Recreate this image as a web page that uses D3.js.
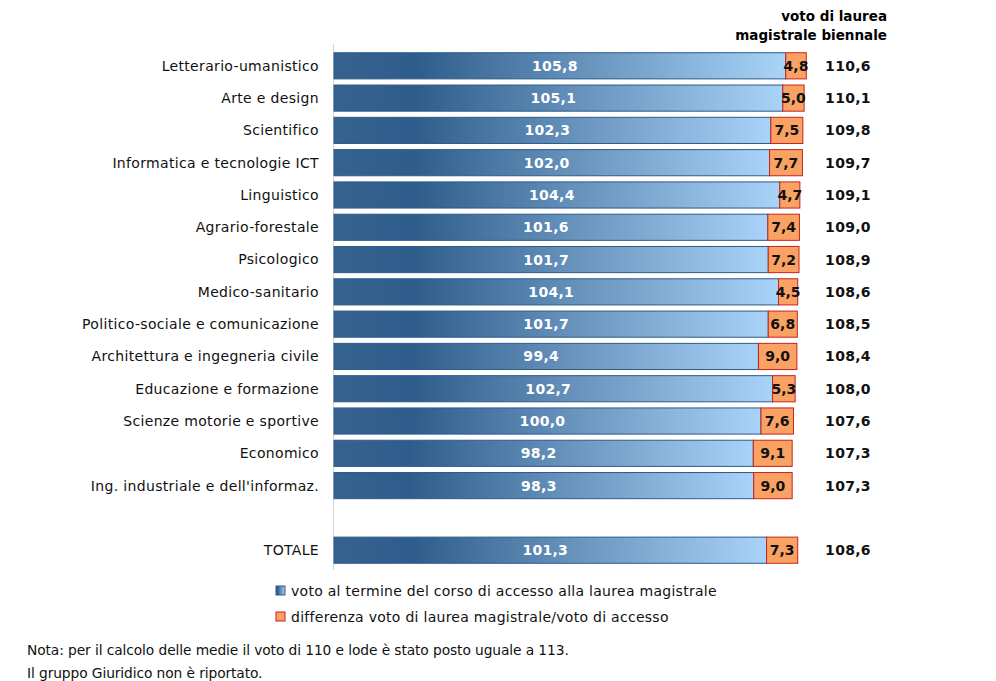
<!DOCTYPE html>
<html><head><meta charset="utf-8">
<script src="https://cdn.jsdelivr.net/npm/d3@7"></script>
<style>body{margin:0;background:#fff}svg{font-family:"DejaVu Sans",Verdana,sans-serif}</style>
</head><body>
<svg id="c" width="996" height="681"></svg>
<script>
const categories = ["Letterario-umanistico","Arte e design","Scientifico","Informatica e tecnologie ICT","Linguistico","Agrario-forestale","Psicologico","Medico-sanitario","Politico-sociale e comunicazione","Architettura e ingegneria civile","Educazione e formazione","Scienze motorie e sportive","Economico","Ing. industriale e dell'informaz.","","TOTALE"];
const accessVote = [105.8,105.1,102.3,102.0,104.4,101.6,101.7,104.1,101.7,99.4,102.7,100.0,98.2,98.3,null,101.3];
const difference = [4.8,5.0,7.5,7.7,4.7,7.4,7.2,4.5,6.8,9.0,5.3,7.6,9.1,9.0,null,7.3];
const finalVote = [110.6,110.1,109.8,109.7,109.1,109.0,108.9,108.6,108.5,108.4,108.0,107.6,107.3,107.3,null,108.6];
const legendLabels = ["voto al termine del corso di accesso alla laurea magistrale","differenza voto di laurea magistrale/voto di accesso"];
const notes = ["Nota: per il calcolo delle medie il voto di 110 e lode è stato posto uguale a 113.","Il gruppo Giuridico non è riportato."];

const svg = d3.select("#c");
const fmt = v => d3.format(".1f")(v).replace(".", ",");
const x = d3.scaleLinear().domain([0, 120]).range([334, 334 + 4.27*120]);
const y = d3.scaleBand().domain(d3.range(categories.length)).range([49.5, 566.5]).paddingInner(0.19).paddingOuter(0.1);

const defs = svg.append("defs");
const g1 = defs.append("linearGradient").attr("id","gb").attr("x1","0").attr("x2","1").attr("y1","0").attr("y2","0");
g1.append("stop").attr("offset","0%").attr("stop-color","#36628f");
g1.append("stop").attr("offset","18%").attr("stop-color","#2f5d8b");
g1.append("stop").attr("offset","100%").attr("stop-color","#a9d3f8");

svg.append("line").attr("x1",333.5).attr("x2",333.5).attr("y1",44).attr("y2",570).attr("stroke","#d4d4d4");

const rows = d3.range(categories.length).filter(i => accessVote[i] != null);

svg.selectAll("text.cat").data(d3.range(categories.length)).join("text")
  .attr("x", 319).attr("y", i => y(i) + y.bandwidth()/2).attr("dy","0.35em")
  .attr("text-anchor","end").attr("font-size",14).attr("letter-spacing","0.33px").attr("fill","#111")
  .text(i => categories[i]);

svg.selectAll("rect.b").data(rows).join("rect")
  .attr("x", x(0)).attr("y", i => y(i)).attr("width", i => x(accessVote[i]) - x(0)).attr("height", y.bandwidth())
  .attr("fill","url(#gb)").attr("stroke","#2d5b8a").attr("stroke-width",1);
svg.selectAll("rect.o").data(rows).join("rect")
  .attr("x", i => x(accessVote[i])).attr("y", i => y(i)).attr("width", i => x(accessVote[i]+difference[i]) - x(accessVote[i])).attr("height", y.bandwidth())
  .attr("fill","#f9a263").attr("stroke","#c8231e").attr("stroke-width",1);

svg.selectAll("text.v").data(rows).join("text")
  .attr("x", i => (x(0)+x(accessVote[i]))/2 - 5).attr("y", i => y(i) + y.bandwidth()/2).attr("dy","0.36em")
  .attr("text-anchor","middle").attr("font-size",14).attr("font-weight","bold").attr("letter-spacing","0.3px").attr("fill","#fff")
  .text(i => fmt(accessVote[i]));
svg.selectAll("text.d").data(rows).join("text")
  .attr("x", i => (x(accessVote[i])+x(accessVote[i]+difference[i]))/2).attr("y", i => y(i) + y.bandwidth()/2).attr("dy","0.36em")
  .attr("text-anchor","middle").attr("font-size",14).attr("font-weight","bold").attr("fill","#111")
  .text(i => fmt(difference[i]));
svg.selectAll("text.f").data(rows).join("text")
  .attr("x", 848).attr("y", i => y(i) + y.bandwidth()/2).attr("dy","0.36em")
  .attr("text-anchor","middle").attr("font-size",14).attr("font-weight","bold").attr("letter-spacing","0.3px").attr("fill","#111")
  .text(i => fmt(finalVote[i]));

svg.append("text").attr("x",887).attr("y",21).attr("text-anchor","end").attr("font-size",13.5).attr("font-weight","bold").text("voto di laurea");
svg.append("text").attr("x",887).attr("y",40).attr("text-anchor","end").attr("font-size",13.5).attr("font-weight","bold").text("magistrale biennale");

const lg = svg.selectAll("g.lg").data(legendLabels).join("g").attr("transform",(d,i)=>`translate(276,${591 + i*26})`);
lg.append("rect").attr("x",0).attr("y",-5).attr("width",9).attr("height",9)
  .attr("fill",(d,i)=> i==0 ? "url(#gb)" : "#f9a263").attr("stroke",(d,i)=> i==0 ? "#2d5b8a" : "#c8231e");
lg.append("text").attr("x",15).attr("y",0).attr("dy","0.35em").attr("font-size",14).attr("letter-spacing","0.28px").attr("fill","#111").text(d=>d);

svg.selectAll("text.n").data(notes).join("text")
  .attr("x",27).attr("y",(d,i)=>655 + i*23).attr("font-size",13.8).attr("letter-spacing","-0.1px").attr("fill","#111").text(d=>d);
</script>
</body></html>
